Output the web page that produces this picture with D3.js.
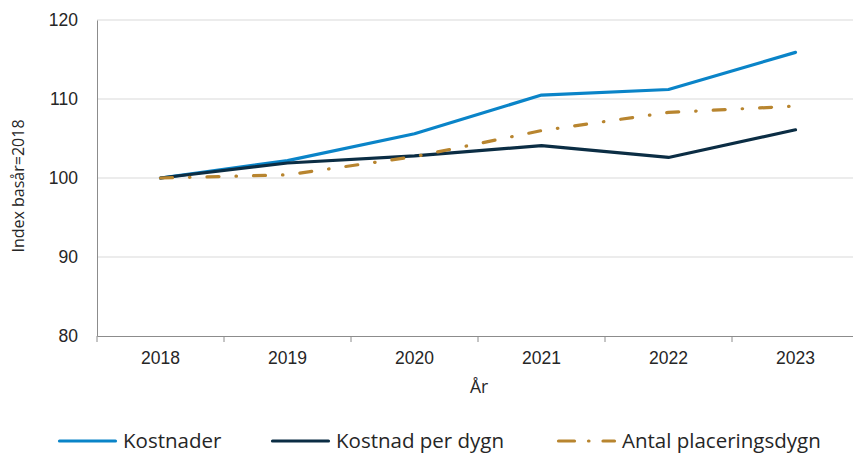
<!DOCTYPE html>
<html>
<head>
<meta charset="utf-8">
<script src="https://cdn.jsdelivr.net/npm/d3@7"></script>
<style>
  body { margin: 0; background: #fff; }
  svg { font-family: "Open Sans", "Noto Sans", sans-serif; }
</style>
</head>
<body>
<svg id="chart" width="853" height="454"></svg>
<script>
const years = ["2018", "2019", "2020", "2021", "2022", "2023"];
const kostnader = [100, 102.2, 105.6, 110.5, 111.2, 115.9];
const kostnadPerDygn = [100, 101.9, 102.8, 104.1, 102.6, 106.1];
const antalDygn = [100, 100.4, 102.7, 106.0, 108.3, 109.1];
const yTicks = [80, 90, 100, 110, 120];

const series = [
  { name: "Kostnader", values: kostnader, color: "#0a84c8", dash: null },
  { name: "Kostnad per dygn", values: kostnadPerDygn, color: "#0b2d44", dash: null },
  { name: "Antal placeringsdygn", values: antalDygn, color: "#b8852f", dash: "12,17,0.5,17" }
];

const svg = d3.select("#chart");
const plot = { left: 97, right: 859, top: 20, bottom: 336 };

const x = d3.scaleBand().domain(years).range([plot.left, plot.right]);
const y = d3.scaleLinear().domain([80, 120]).range([plot.bottom, plot.top]);

// grid
svg.append("g")
  .selectAll("line")
  .data(yTicks.filter(d => d > 80))
  .join("line")
    .attr("x1", plot.left).attr("x2", 853)
    .attr("y1", d => y(d)).attr("y2", d => y(d))
    .attr("stroke", "#d9d9d9").attr("stroke-width", 1);

// y axis
const yAxis = svg.append("g")
  .attr("transform", `translate(${plot.left},0)`)
  .call(d3.axisLeft(y).tickValues(yTicks).tickSize(0).tickPadding(19));
yAxis.select(".domain").attr("stroke", "#8c8c8c");
yAxis.selectAll("text").style("font-size", "17.5px").attr("fill", "#262626");

// x axis
const xAxis = svg.append("g")
  .attr("transform", `translate(0,${plot.bottom})`)
  .call(d3.axisBottom(x).tickSize(0).tickPadding(16));
xAxis.select(".domain").attr("stroke", "#8c8c8c");
xAxis.selectAll("text").style("font-size", "17.5px").attr("fill", "#262626");
xAxis.selectAll(".tick line").remove();

// ticks between categories
svg.append("g")
  .selectAll("line")
  .data(years)
  .join("line")
    .attr("x1", d => x(d)).attr("x2", d => x(d))
    .attr("y1", plot.bottom).attr("y2", plot.bottom + 6)
    .attr("stroke", "#8c8c8c");

// axis titles
svg.append("text")
  .attr("transform", `translate(24,${(plot.top + plot.bottom) / 2 + 8}) rotate(-90)`)
  .attr("text-anchor", "middle")
  .style("font-size", "16px")
  .attr("fill", "#262626")
  .text("Index basår=2018");

svg.append("text")
  .attr("x", 479).attr("y", 393)
  .attr("text-anchor", "middle")
  .style("font-size", "17.5px")
  .attr("fill", "#262626")
  .text("År");

// lines
const line = d3.line()
  .x((d, i) => x(years[i]) + x.bandwidth() / 2)
  .y(d => y(d));

svg.append("g")
  .selectAll("path")
  .data(series)
  .join("path")
    .attr("d", d => line(d.values))
    .attr("fill", "none")
    .attr("stroke", d => d.color)
    .attr("stroke-width", 3.2)
    .attr("stroke-linecap", "round")
    .attr("stroke-linejoin", "round")
    .attr("stroke-dasharray", d => d.dash);

// legend
const legendX = [58, 271, 557];
const legend = svg.append("g")
  .selectAll("g")
  .data(series)
  .join("g")
    .attr("transform", (d, i) => `translate(${legendX[i]},441)`);

legend.append("line")
  .attr("x1", 1.5).attr("x2", 57.5)
  .attr("stroke", d => d.color)
  .attr("stroke-width", 3.2)
  .attr("stroke-linecap", "round")
  .attr("stroke-dasharray", d => d.dash ? "16,14,0.5,14" : null);

legend.append("text")
  .attr("x", 65)
  .attr("y", 7)
  .style("font-size", "20.5px")
  .attr("fill", "#262626")
  .text(d => d.name);
</script>
</body>
</html>
